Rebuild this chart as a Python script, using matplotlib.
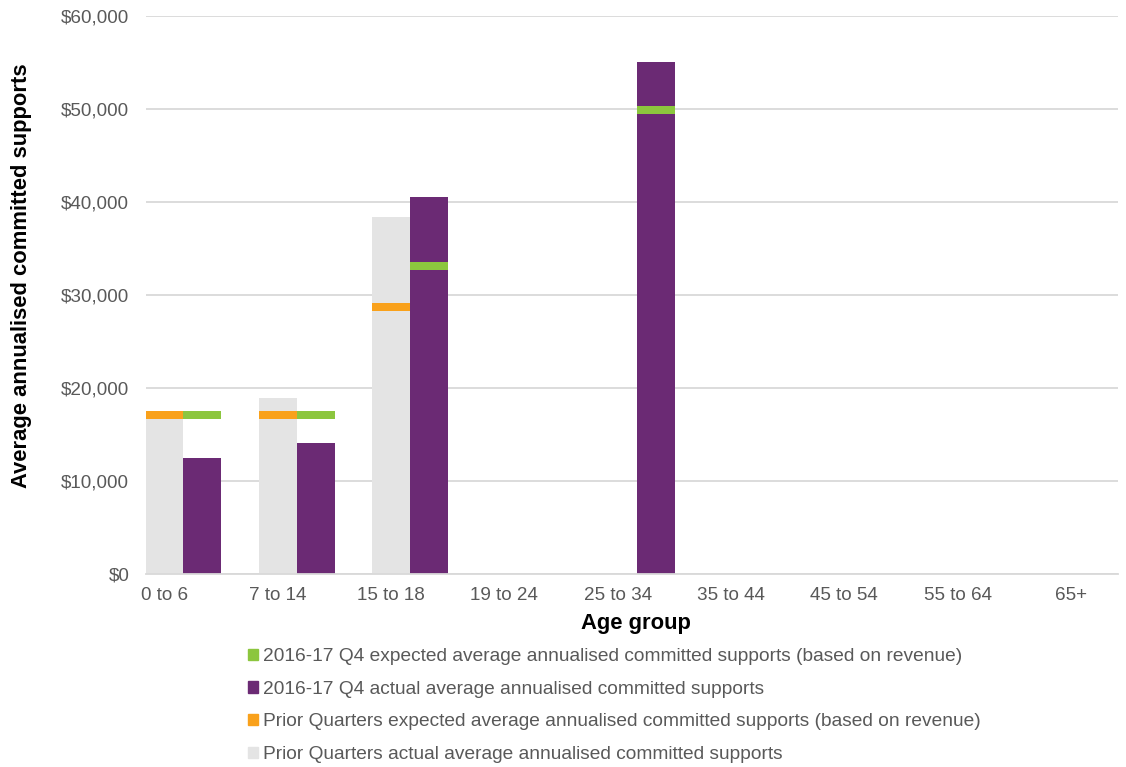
import matplotlib
matplotlib.use("Agg")
import matplotlib.pyplot as plt
from matplotlib.patches import Patch
import numpy as np

plt.rcParams['font.family'] = ['Liberation Sans', 'DejaVu Sans']

categories = ["0 to 6", "7 to 14", "15 to 18", "19 to 24", "25 to 34",
              "35 to 44", "45 to 54", "55 to 64", "65+"]
prior_actual = [17300, 18990, 38370, 0, 0, 0, 0, 0, 0]
prior_expected = [17130, 17130, 28760, None, None, None, None, None, None]
q4_actual = [12540, 14080, 40600, 0, 55090, 0, 0, 0, 0]
q4_expected = [17180, 17130, 33170, None, 49900, None, None, None, None]

labels = [
    "2016-17 Q4 expected average annualised committed supports (based on revenue)",
    "2016-17 Q4 actual average annualised committed supports",
    "Prior Quarters expected average annualised committed supports (based on revenue)",
    "Prior Quarters actual average annualised committed supports",
]

c_green = "#8CC63E"
c_purple = "#6B2A74"
c_orange = "#F9A11B"
c_grey = "#E4E4E4"
txt = "#595959"

fig = plt.figure(figsize=(11.26, 7.67), dpi=100)
ax = fig.add_axes([146/1126, 1-574.3/767, (1118-146)/1126, 558/767])

x = np.arange(len(categories))
w = 0.335
off = 0.335
marker_h = 860

ax.bar(x, prior_actual, width=w, color=c_grey, zorder=2)
ax.bar(x + off, q4_actual, width=w, color=c_purple, zorder=2)

for i, v in enumerate(prior_expected):
    if v is not None:
        ax.bar(x[i], marker_h, bottom=v - marker_h/2, width=w, color=c_orange, zorder=3)
for i, v in enumerate(q4_expected):
    if v is not None:
        ax.bar(x[i] + off, marker_h, bottom=v - marker_h/2, width=w, color=c_green, zorder=3)

ax.set_xlim(-0.163, 8.416)
ax.set_ylim(0, 60000)
ax.set_yticks(np.arange(0, 60001, 10000))
ax.set_yticklabels([f"${v:,.0f}" for v in np.arange(0, 60001, 10000)])
ax.set_xticks(x)
ax.set_xticklabels(categories)
ax.tick_params(axis='both', length=0, labelsize=13.6, labelcolor=txt)
ax.tick_params(axis='y', pad=12)
ax.tick_params(axis='x', pad=9)
ax.grid(axis='y', color="#D9D9D9", linewidth=1.3, zorder=0)
ax.set_axisbelow(True)
for s in ["top", "right", "left"]:
    ax.spines[s].set_visible(False)
ax.spines["bottom"].set_color("#D9D9D9")
ax.spines["bottom"].set_linewidth(1.3)

fig.text(636/1126, 1-623/767, "Age group", ha='center', va='center',
         fontsize=15.8, fontweight='bold', color='black')
fig.text(22/1126, 1-276/767, "Average annualised committed supports", ha='center',
         va='center', rotation=90, fontsize=15.8, fontweight='bold', color='black')

handles = [Patch(color=c_green), Patch(color=c_purple), Patch(color=c_orange), Patch(color=c_grey)]
leg = fig.legend(handles, labels, loc='upper left', bbox_to_anchor=(248/1126, 1-648/767),
                 frameon=False, fontsize=13.8, handlelength=0.52, handleheight=0.52,
                 handletextpad=0.25, labelspacing=0.82, borderaxespad=0, borderpad=0)
for t in leg.get_texts():
    t.set_color(txt)

fig.savefig("out.png", dpi=100)
